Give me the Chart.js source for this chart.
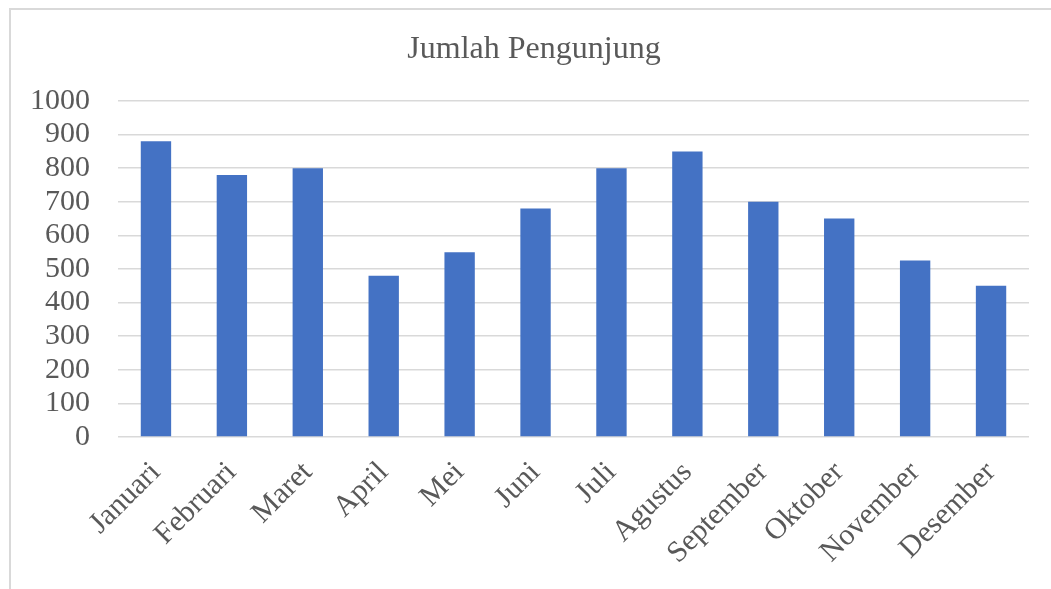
<!DOCTYPE html>
<html>
<head>
<meta charset="utf-8">
<script src="https://cdn.jsdelivr.net/npm/chart.js@4.4.0/dist/chart.umd.min.js"></script>
<style>
    html, body { margin: 0; padding: 0; background: #fff; }
    #wrap { width: 1051px; height: 589px; position: relative; }
</style>
</head>
<body>
<div id="wrap"><canvas id="myChart"></canvas></div>
<script>
const months = ['Januari', 'Februari', 'Maret', 'April', 'Mei', 'Juni', 'Juli',
    'Agustus', 'September', 'Oktober', 'November', 'Desember'];
const visitors = [880, 780, 800, 480, 550, 680, 800, 850, 700, 650, 525, 450];
const yTicks = [0, 100, 200, 300, 400, 500, 600, 700, 800, 900, 1000];
const chartTitle = 'Jumlah Pengunjung';

const serif = "'Liberation Serif', 'Times New Roman', serif";
const textColor = '#595959';

// frame of the chart box (left + top visible) and the title,
// which sits centred on the whole box, not on the plot
const framePlugin = {
    id: 'frame',
    beforeDraw(chart) {
        const c = chart.ctx;
        c.save();
        c.strokeStyle = '#d9d9d9';
        c.lineWidth = 2;
        c.beginPath();
        c.moveTo(10, 600);
        c.lineTo(10, 9);
        c.lineTo(1060, 9);
        c.stroke();

        c.fillStyle = textColor;
        c.font = '32px ' + serif;
        c.textAlign = 'center';
        c.textBaseline = 'alphabetic';
        c.fillText(chartTitle, 534, 58);
        c.restore();
    }
};

const ctx = document.getElementById('myChart').getContext('2d');
const myChart = new Chart(ctx, {
    type: 'bar',
    data: {
        labels: months,
        datasets: [{
            label: chartTitle,
            data: visitors,
            backgroundColor: '#4472C4',
            barPercentage: 0.4,
            categoryPercentage: 1,
        }]
    },
    options: {
        responsive: true,
        maintainAspectRatio: false,
        animation: false,
        layout: {
            padding: { top: 101, left: 10, right: 22, bottom: 0 }
        },
        plugins: {
            legend: { display: false },
            tooltip: { enabled: false },
            title: { display: false },
        },
        scales: {
            x: {
                grid: { display: false, drawTicks: false },
                border: { display: false },
                ticks: {
                    color: textColor,
                    font: { family: serif, size: 30 },
                    minRotation: 45,
                    maxRotation: 45,
                    padding: 18,
                    autoSkip: false,
                },
                afterFit: scale => { scale.height = 152; },
            },
            y: {
                min: 0,
                max: 1000,
                afterBuildTicks: scale => {
                    scale.ticks = yTicks.map(v => ({ value: v }));
                },
                grid: {
                    color: '#d9d9d9',
                    lineWidth: 1.5,
                    drawTicks: false,
                },
                border: { display: false },
                ticks: {
                    color: textColor,
                    font: { family: serif, size: 30 },
                    padding: 28,
                    autoSkip: false,
                    callback: value => String(value),
                },
                afterFit: scale => { scale.width = 108; },
            },
        },
    },
    plugins: [framePlugin],
});
</script>
</body>
</html>
